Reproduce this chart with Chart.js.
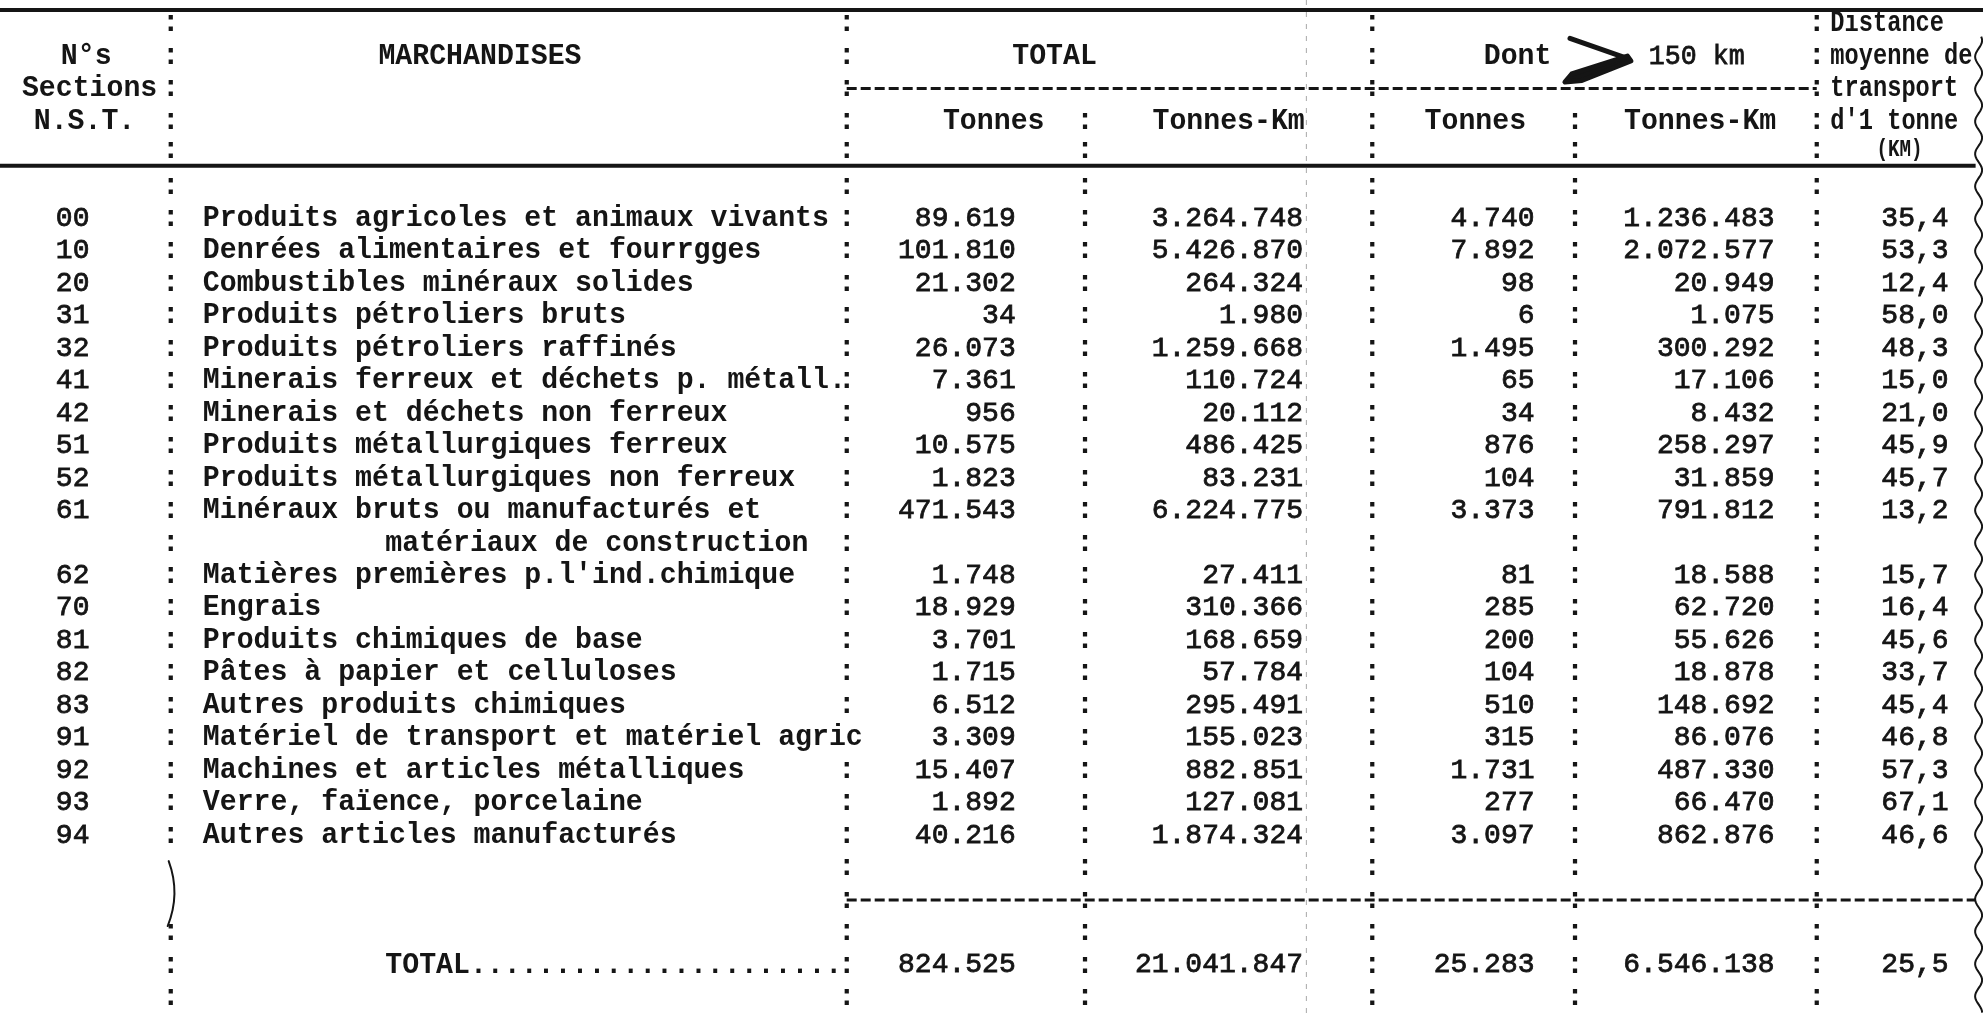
<!DOCTYPE html>
<html>
<head>
<meta charset="utf-8">
<script src="https://cdn.jsdelivr.net/npm/chart.js@4.4.1/dist/chart.umd.min.js"></script>
<style>
  html, body { margin: 0; padding: 0; background: #fff; }
  #wrap { width: 1983px; height: 1013px; }
</style>
</head>
<body>
<div id="wrap"><canvas id="table" width="1983" height="1013"></canvas></div>
<script>
// Données du tableau (marchandises N.S.T.)
const sections = ['00', '10', '20', '31', '32', '41', '42', '51', '52', '61', '62', '70', '81', '82', '83', '91', '92', '93', '94'];
const goods = [
    ['Produits agricoles et animaux vivants'],
    ['Denrées alimentaires et fourrgges'],
    ['Combustibles minéraux solides'],
    ['Produits pétroliers bruts'],
    ['Produits pétroliers raffinés'],
    ['Minerais ferreux et déchets p. métall.'],
    ['Minerais et déchets non ferreux'],
    ['Produits métallurgiques ferreux'],
    ['Produits métallurgiques non ferreux'],
    ['Minéraux bruts ou manufacturés et', 'matériaux de construction'],
    ["Matières premières p.l'ind.chimique"],
    ['Engrais'],
    ['Produits chimiques de base'],
    ['Pâtes à papier et celluloses'],
    ['Autres produits chimiques'],
    ['Matériel de transport et matériel agric'],
    ['Machines et articles métalliques'],
    ['Verre, faïence, porcelaine'],
    ['Autres articles manufacturés']
];
const totalTonnes = [89619, 101810, 21302, 34, 26073, 7361, 956, 10575, 1823, 471543, 1748, 18929, 3701, 1715, 6512, 3309, 15407, 1892, 40216];
const totalTkm = [3264748, 5426870, 264324, 1980, 1259668, 110724, 20112, 486425, 83231, 6224775, 27411, 310366, 168659, 57784, 295491, 155023, 882851, 127081, 1874324];
const dontTonnes = [4740, 7892, 98, 6, 1495, 65, 34, 876, 104, 3373, 81, 285, 200, 104, 510, 315, 1731, 277, 3097];
const dontTkm = [1236483, 2072577, 20949, 1075, 300292, 17106, 8432, 258297, 31859, 791812, 18588, 62720, 55626, 18878, 148692, 86076, 487330, 66470, 862876];
const distance = [35.4, 53.3, 12.4, 58.0, 48.3, 15.0, 21.0, 45.9, 45.7, 13.2, 15.7, 16.4, 45.6, 33.7, 45.4, 46.8, 57.3, 67.1, 46.6];
const grandTotal = [824525, 21041847, 25283, 6546138, 25.5];

// Mise en page : colonnes de machine à écrire, lignes de frappe
const X_MAX = 1983 / 16.9;
const Y_MIN = -6.73, Y_MAX = 24.48;
const COLONS = [10.1, 50.1, 64.2, 81.2, 93.2, 107.5];
const NUM_RIGHT = [60.1, 77.1, 90.8, 105.0, 115.3];
const EDGE = 116.9;
const INK = '#151515';
const TYPE_FONT = 'bold 30px "Liberation Mono"';
const NUM_FONT = '28px "Liberation Mono"';

const fmtInt = n => String(n).replace(/\B(?=(\d{3})+(?!\d))/g, '.');
const fmtDec = v => v.toFixed(1).replace('.', ',');

// ligne de frappe de chaque rubrique (61 occupe deux lignes)
const rowLine = [];
let nextLine = 0;
goods.forEach(g => { rowLine.push(nextLine); nextLine += g.length; });
const totalLine = nextLine + 3;

function textSet(points, font, align, sx, bold) {
    return { data: points, font: font, align: align, sx: sx, bold: bold || 0, pointRadius: 0 };
}

const labelPoints = [];
goods.forEach((g, i) => g.forEach((t, k) => {
    labelPoints.push({ x: k === 0 ? 12.0 : 22.8, y: rowLine[i] + k, t: t });
}));

const numberCols = [totalTonnes, totalTkm, dontTonnes, dontTkm];
const numberSets = numberCols.map((arr, c) =>
    textSet(arr.map((v, i) => ({ x: NUM_RIGHT[c], y: rowLine[i], t: fmtInt(v) })), NUM_FONT, 'right', 1, 0.8));
numberSets.push(textSet(distance.map((v, i) => ({ x: NUM_RIGHT[4], y: rowLine[i], t: fmtDec(v) })), NUM_FONT, 'right', 1, 0.8));

const totalPoints = grandTotal.map((v, c) => ({ x: NUM_RIGHT[c], y: totalLine, t: c === 4 ? fmtDec(v) : fmtInt(v) }));

const headerType = [
    { x: 5.1, y: -5, t: 'N°s' }, { x: 5.3, y: -4, t: 'Sections' }, { x: 5.0, y: -3, t: 'N.S.T.' },
    { x: 28.4, y: -5, t: 'MARCHANDISES' }, { x: 62.4, y: -5, t: 'TOTAL' }, { x: 89.8, y: -5, t: 'Dont' },
    { x: 58.8, y: -3, t: 'Tonnes' }, { x: 72.7, y: -3, t: 'Tonnes-Km' },
    { x: 87.3, y: -3, t: 'Tonnes' }, { x: 100.6, y: -3, t: 'Tonnes-Km' }
];
const headerRight = [
    { x: 108.3, y: -6, t: 'Distance' }, { x: 108.3, y: -5, t: 'moyenne de' },
    { x: 108.3, y: -4, t: 'transport' }, { x: 108.3, y: -3, t: "d'1 tonne" }
];

const datasets = [
    textSet(sections.map((s, i) => ({ x: 4.3, y: rowLine[i], t: s })), NUM_FONT, 'center', 1, 0.8),
    textSet(labelPoints, TYPE_FONT, 'left', 0.94),
    ...numberSets,
    textSet(totalPoints, NUM_FONT, 'right', 1, 0.8),
    textSet([{ x: 22.8, y: totalLine, t: 'TOTAL' + '.'.repeat(22) }], TYPE_FONT, 'left', 0.94),
    textSet(headerType, TYPE_FONT, 'center', 0.94),
    textSet(headerRight, TYPE_FONT, 'left', 0.79),
    textSet([{ x: 100.4, y: -5, t: '150 km' }], NUM_FONT, 'center', 0.95, 0.8),
    textSet([{ x: 112.4, y: -2.1, t: '(KM)' }], 'bold 24px "Liberation Mono"', 'center', 0.8)
];

function drawText(ctx, t, px, py, font, align, sx, bold) {
    ctx.save();
    ctx.font = font;
    ctx.textAlign = align;
    ctx.textBaseline = 'middle';
    ctx.translate(px, py);
    ctx.scale(sx, 1);
    ctx.fillText(t, 0, 0);
    if (bold) {
        ctx.lineWidth = bold;
        ctx.strokeStyle = INK;
        ctx.strokeText(t, 0, 0);
    }
    ctx.restore();
}

// Filets, deux-points et retouches à la main
const tablePlugin = {
    id: 'typedTable',
    beforeDatasetsDraw(chart) {
        const { ctx, scales: { x, y } } = chart;
        const px = v => x.getPixelForValue(v);
        const py = v => y.getPixelForValue(v);
        const hline = (ln, a, b) => {
            ctx.beginPath();
            ctx.moveTo(px(a), py(ln));
            ctx.lineTo(px(b), py(ln));
            ctx.stroke();
        };
        ctx.save();
        ctx.strokeStyle = INK;
        ctx.lineWidth = 4;
        hline(-6.42, 0, X_MAX);
        hline(-1.62, 0, EDGE);
        ctx.lineWidth = 3;
        ctx.setLineDash([10, 4]);
        hline(-4, COLONS[1], COLONS[5]);
        hline(totalLine - 2, COLONS[1], EDGE);
        // trait de crayon vertical
        ctx.setLineDash([5, 7]);
        ctx.lineWidth = 1;
        ctx.strokeStyle = 'rgba(0,0,0,0.35)';
        ctx.beginPath();
        ctx.moveTo(px(77.3), py(Y_MIN));
        ctx.lineTo(px(77.3), py(Y_MAX));
        ctx.stroke();
        ctx.setLineDash([]);
        // bord droit ondulé
        ctx.strokeStyle = INK;
        ctx.lineWidth = 2;
        ctx.beginPath();
        const ex = px(EDGE) + 3;
        const y0 = py(-5.6);
        for (let yy = y0; yy <= chart.height; yy += 2) {
            const w = 3.5 * Math.sin(2 * Math.PI * yy / 32.4);
            if (yy === y0) ctx.moveTo(ex + w, yy); else ctx.lineTo(ex + w, yy);
        }
        ctx.stroke();
        // flèche « > » tracée à la main
        ctx.lineJoin = 'round';
        ctx.lineCap = 'round';
        ctx.lineWidth = 5;
        ctx.beginPath();
        ctx.moveTo(px(92.9), py(-5.55));
        ctx.lineTo(px(96.2), py(-4.95));
        ctx.stroke();
        ctx.fillStyle = INK;
        ctx.beginPath();
        ctx.moveTo(px(96.3), py(-5.0));
        ctx.lineTo(px(93.0), py(-4.45));
        ctx.lineTo(px(92.6), py(-4.2));
        ctx.lineTo(px(93.6), py(-4.25));
        ctx.lineTo(px(96.5), py(-4.85));
        ctx.closePath();
        ctx.fill();
        ctx.stroke();
        // accolade à gauche du bloc total
        ctx.lineWidth = 2;
        ctx.beginPath();
        const bx = px(COLONS[0]);
        ctx.moveTo(bx - 2, py(totalLine - 3.2));
        ctx.quadraticCurveTo(bx + 10, py(totalLine - 2.2), bx - 3, py(totalLine - 1.2));
        ctx.stroke();
        ctx.restore();
    },
    afterDatasetsDraw(chart) {
        const { ctx, scales: { x, y } } = chart;
        ctx.save();
        ctx.fillStyle = INK;
        chart.data.datasets.forEach((ds, i) => {
            const meta = chart.getDatasetMeta(i);
            meta.data.forEach((el, j) => {
                drawText(ctx, ds.data[j].t, el.x, el.y, ds.font, ds.align, ds.sx, ds.bold);
            });
        });
        // deux-points de séparation de colonnes
        const labelEnd = {};
        ctx.font = TYPE_FONT;
        labelPoints.forEach(p => {
            labelEnd[p.y] = x.getPixelForValue(p.x) + ctx.measureText(p.t).width * 0.94;
        });
        const lines = [-6, -5, -4, -3, -2.1, -1];
        for (let ln = 0; ln <= totalLine + 1; ln++) lines.push(ln);
        lines.forEach(ln => {
            let cols = [0, 1, 2, 3, 4, 5];
            if (ln <= -4) cols = [0, 1, 3, 5];
            if (ln === totalLine - 3 || ln === totalLine - 2) cols = [1, 2, 3, 4, 5];
            cols.forEach(c => {
                const cx = x.getPixelForValue(COLONS[c]);
                if (c === 1 && labelEnd[ln] !== undefined && labelEnd[ln] > cx + 6) return;
                drawText(ctx, ':', cx, y.getPixelForValue(ln), TYPE_FONT, 'center', 1);
            });
        });
        ctx.restore();
    }
};

new Chart(document.getElementById('table').getContext('2d'), {
    type: 'scatter',
    data: { datasets: datasets },
    options: {
        responsive: false,
        animation: false,
        events: [],
        layout: { padding: 0 },
        plugins: {
            legend: { display: false },
            tooltip: { enabled: false }
        },
        scales: {
            x: { type: 'linear', min: 0, max: X_MAX, display: false },
            y: { type: 'linear', min: Y_MIN, max: Y_MAX, reverse: true, display: false }
        }
    },
    plugins: [tablePlugin]
});
</script>
</body>
</html>
